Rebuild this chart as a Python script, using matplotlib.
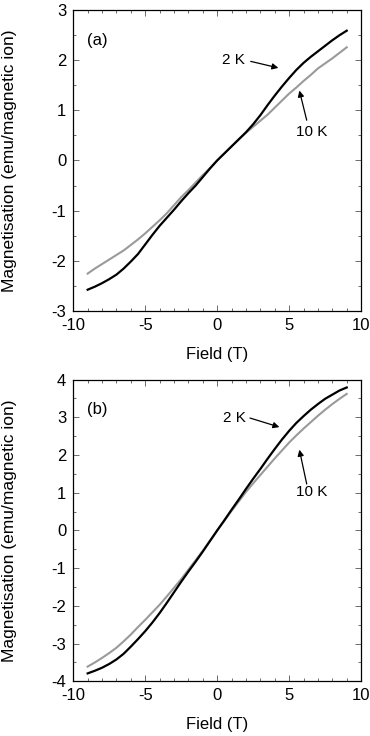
import numpy as np
import matplotlib
matplotlib.use('Agg')
import matplotlib.pyplot as plt
from matplotlib.ticker import MultipleLocator

plt.rcParams['font.family'] = ['Liberation Sans', 'DejaVu Sans']
plt.rcParams['axes.unicode_minus'] = False

# field values (T), every 0.5 T from -9 to 9
field = [-9, -8.5, -8, -7.5, -7, -6.5, -6, -5.5, -5, -4.5, -4, -3.5, -3, -2.5, -2, -1.5, -1, -0.5,
         0, 0.5, 1, 1.5, 2, 2.5, 3, 3.5, 4, 4.5, 5, 5.5, 6, 6.5, 7, 7.5, 8, 8.5, 9]

# panel (a)
m_a_2K = [-2.57, -2.51, -2.44, -2.36, -2.27, -2.15, -2.01, -1.86, -1.67, -1.48, -1.30, -1.14, -0.98,
          -0.81, -0.65, -0.50, -0.33, -0.16,
          0.0, 0.14, 0.28, 0.42, 0.56, 0.72, 0.90, 1.10, 1.29, 1.47, 1.64, 1.80, 1.94, 2.06, 2.17,
          2.28, 2.39, 2.49, 2.58]
m_a_10K = [-2.25, -2.15, -2.06, -1.97, -1.88, -1.79, -1.68, -1.57, -1.45, -1.32, -1.19, -1.05, -0.89,
           -0.73, -0.59, -0.44, -0.29, -0.15,
           0.0, 0.14, 0.28, 0.42, 0.55, 0.67, 0.79, 0.91, 1.05, 1.19, 1.33, 1.45, 1.58, 1.70, 1.83,
           1.93, 2.03, 2.14, 2.25]

# panel (b)
m_b_2K = [-3.79, -3.72, -3.64, -3.54, -3.42, -3.27, -3.08, -2.88, -2.67, -2.44, -2.19, -1.92, -1.64,
          -1.36, -1.09, -0.83, -0.56, -0.28,
          0.0, 0.27, 0.55, 0.82, 1.10, 1.37, 1.63, 1.90, 2.16, 2.41, 2.64, 2.85, 3.03, 3.20, 3.35,
          3.49, 3.60, 3.71, 3.79]
m_b_10K = [-3.61, -3.50, -3.38, -3.25, -3.11, -2.94, -2.76, -2.56, -2.37, -2.17, -1.97, -1.75, -1.52,
           -1.29, -1.04, -0.79, -0.54, -0.27,
           0.0, 0.26, 0.52, 0.77, 1.02, 1.25, 1.47, 1.69, 1.91, 2.12, 2.33, 2.52, 2.70, 2.87, 3.04,
           3.20, 3.35, 3.49, 3.62]

fig = plt.figure(figsize=(3.7, 7.36), dpi=100)
ax_a = fig.add_axes([0.198, 0.577, 0.778, 0.410])
ax_b = fig.add_axes([0.198, 0.0743, 0.778, 0.410])

# label/arrow spots: panel letter y, "2 K" text, tail, head, "10 K" text, tail, head
panels = [
    (ax_a, m_a_2K, m_a_10K, (-3, 3), '(a)', 2.39,
     (1.12, 2.00), (2.33, 1.97), (4.25, 1.84),
     (6.57, 0.56), (6.22, 0.80), (5.71, 1.39)),
    (ax_b, m_b_2K, m_b_10K, (-4, 4), '(b)', 3.2,
     (1.17, 2.98), (2.28, 2.98), (4.32, 2.74),
     (6.57, 1.02), (6.22, 1.23), (5.71, 2.14)),
]

for ax, m2, m10, ylim, lab, laby, t2, tail2, head2, t10, tail10, head10 in panels:
    ax.plot(field, m10, color='#9a9a9a', lw=1.5, zorder=2)
    ax.plot(field, m2, color='black', lw=1.6, zorder=3)
    ax.set_xlim(-10, 10)
    ax.set_ylim(*ylim)
    ax.xaxis.set_major_locator(MultipleLocator(5))
    ax.xaxis.set_minor_locator(MultipleLocator(1))
    ax.yaxis.set_major_locator(MultipleLocator(1))
    ax.yaxis.set_minor_locator(MultipleLocator(0.5))
    ax.tick_params(which='both', direction='in', top=True, right=True,
                   width=0.6, color='#555555', labelsize=12, pad=5)
    ax.tick_params(which='major', length=4)
    ax.tick_params(which='minor', length=2.5)
    for sp in ax.spines.values():
        sp.set_linewidth(0.9)
    ax.set_xlabel('Field (T)', fontsize=12)
    ax.set_ylabel('Magnetisation (emu/magnetic ion)', fontsize=12.5)
    ax.xaxis.set_label_coords(0.5, -0.118)
    ax.yaxis.set_label_coords(-0.196, 0.5)
    ax.text(-8.3, laby, lab, fontsize=12, ha='center', va='center')
    ax.text(*t2, '2 K', fontsize=11, ha='center', va='center')
    ax.annotate('', xy=head2, xytext=tail2,
                arrowprops=dict(arrowstyle='-|>', color='black', lw=0.9,
                                mutation_scale=9, shrinkA=0, shrinkB=0))
    ax.text(*t10, '10 K', fontsize=11, ha='center', va='center')
    ax.annotate('', xy=head10, xytext=tail10,
                arrowprops=dict(arrowstyle='-|>', color='black', lw=0.9,
                                mutation_scale=9, shrinkA=0, shrinkB=0))

fig.savefig('out.png', dpi=100)
